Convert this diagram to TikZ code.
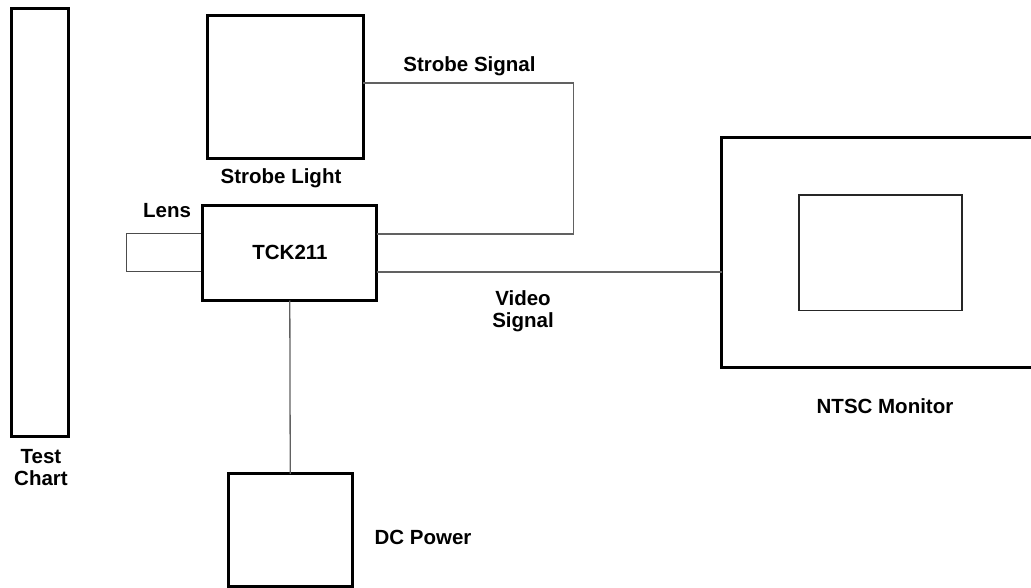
\documentclass[tikz,border=0pt]{standalone}
\usepackage{fontspec}
\setmainfont{Liberation Sans}
\begin{document}
\begin{tikzpicture}[x=1pt,y=-1pt,
  thickbox/.style={draw=black,line width=3pt,inner sep=0pt,outer sep=0pt,fill=white},
  thinbox/.style={draw=black!85,line width=1.2pt,inner sep=0pt,outer sep=0pt},
  wire/.style={draw=black!62,line width=1.3pt},
  lbl/.style={font=\fontsize{20.5}{22}\selectfont\bfseries,inner sep=0pt,anchor=base,align=center}]
\useasboundingbox (0,0) rectangle (1031,588);
% boxes
\node[thickbox,minimum width=57pt,minimum height=427pt] (chart) at (39.8,222.5) {};
\node[thickbox,minimum width=155.6pt,minimum height=143.3pt] (strobe) at (285.5,86.7) {};
\node[thinbox,draw=black!70,minimum width=76.1pt,minimum height=38.4pt] (lens) at (164.75,252.5) {};
\node[thickbox,minimum width=174pt,minimum height=94.8pt] (tck) at (289.8,253.1) {};
\node[thickbox,minimum width=323.3pt,minimum height=230pt] (monitor) at (883.35,252.3) {};
\node[thinbox,minimum width=163pt,minimum height=115.3pt] (screen) at (880.5,252.65) {};
\node[thickbox,minimum width=124.5pt,minimum height=112.7pt] (dc) at (290.25,530.15) {};
% connectors
\coordinate (s1) at (573.7,83);
\coordinate (s2) at (573.7,234);
\coordinate (vy) at (0,272);
\draw[wire] (strobe.east|-s1) -- (s1) -- (s2) -- (tck.east|-s2);
\draw[wire] (tck.east|-vy) -- (monitor.west|-vy);
\draw[wire] (tck.south) -- (dc.north);
% labels
\node[lbl] (lstrobesig) at (469.5,72) {Strobe Signal};
\node[lbl] (lstrobe) at (281,184) {Strobe Light};
\node[lbl] (llens) at (167,218) {Lens};
\node[lbl] (ltck) at (290,260) {TCK211};
\node[lbl] (lvideo) at (523,327) {Video\\Signal};
\node[lbl] (lmon) at (885,413) {NTSC Monitor};
\node[lbl] (lchart) at (41,485) {Test\\Chart};
\node[lbl] (ldc) at (423,544) {DC Power};
\end{tikzpicture}
\end{document}
